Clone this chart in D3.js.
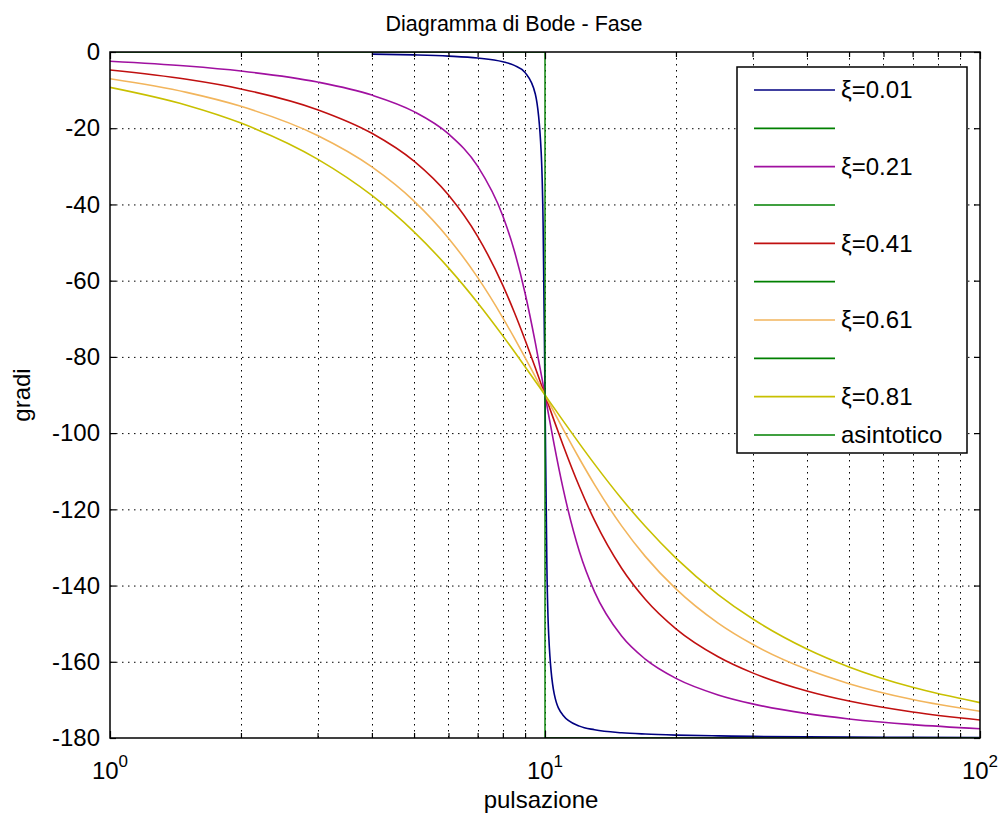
<!DOCTYPE html>
<html>
<head>
<meta charset="utf-8">
<script src="https://cdn.jsdelivr.net/npm/d3@7"></script>
<style>
  html, body { margin: 0; padding: 0; background: #fff; }
  svg { display: block; font-family: "Liberation Sans", Arial, sans-serif; }
</style>
</head>
<body>
<svg id="chart" width="1000" height="819"></svg>
<script>
// ---- data ----
const freq = [1, 1.5, 2, 3, 4, 5, 6, 7, 8, 8.5, 9, 9.5, 9.8, 9.9, 10, 10.1, 10.2, 10.5, 11, 12, 13, 15, 17, 20, 25, 30, 40, 50, 70, 100];
// the ξ=0.01 trace is only visible from about 4 rad/s onward
const phase001 = [null, null, null, null, -0.55, -0.76, -1.07, -1.57, -2.55, -3.51, -5.41, -11.03, -26.33, -44.86, -90, -134.86, -153.21, -168.42, -174.02, -176.88, -177.84, -178.63, -178.97, -179.24, -179.45, -179.57, -179.69, -179.76, -179.83, -179.88];
const phase021 = [-2.43, -3.69, -5.0, -7.88, -11.31, -15.64, -21.49, -29.96, -43.03, -52.14, -63.31, -76.27, -84.5, -87.26, -90, -92.71, -95.39, -103.08, -114.44, -131.12, -141.64, -153.25, -159.31, -164.36, -168.69, -171.05, -173.61, -175.0, -176.5, -177.57];
const phase041 = [-4.74, -7.17, -9.69, -15.13, -21.33, -28.66, -37.55, -48.38, -61.24, -68.29, -75.56, -82.87, -87.18, -88.6, -90, -91.39, -92.77, -96.79, -103.11, -114.09, -122.91, -135.46, -143.59, -151.34, -158.67, -162.91, -167.67, -170.31, -173.18, -175.27];
const phase061 = [-7.03, -10.6, -14.26, -21.91, -30.15, -39.12, -48.84, -59.15, -69.75, -75.02, -80.18, -85.19, -88.1, -89.06, -90, -90.93, -91.86, -94.57, -98.89, -106.73, -113.51, -124.34, -132.34, -140.88, -149.85, -155.41, -161.98, -165.74, -169.91, -172.97];
const phase081 = [-9.29, -13.96, -18.65, -28.1, -37.65, -47.2, -56.64, -65.78, -74.48, -78.61, -82.57, -86.37, -88.57, -89.29, -90, -90.7, -91.4, -93.45, -96.72, -102.75, -108.14, -117.22, -124.46, -132.8, -142.35, -148.72, -156.64, -161.35, -166.71, -170.71];
const asymFreq = [1, 10, 10, 100];
const asymPhase = [0, 0, -180, -180];

const seriesNames = ["\u03BE=0.01", "\u03BE=0.21", "\u03BE=0.41", "\u03BE=0.61", "\u03BE=0.81"];
const seriesColors = ["#000080", "#a010a0", "#c01010", "#f2b55c", "#c8c000"];
const asymColor = "#008000";
const legendLabels = ["\u03BE=0.01", "", "\u03BE=0.21", "", "\u03BE=0.41", "", "\u03BE=0.61", "", "\u03BE=0.81", "asintotico"];

const yTicks = [0, -20, -40, -60, -80, -100, -120, -140, -160, -180];
const xMajor = [1, 10, 100];
const xMajorExp = ["0", "1", "2"];
const xMinor = [2, 3, 4, 5, 6, 7, 8, 9, 20, 30, 40, 50, 60, 70, 80, 90];

const titleText = "Diagramma di Bode - Fase";
const xLabelText = "pulsazione";
const yLabelText = "gradi";

// ---- layout ----
const svg = d3.select("#chart");
const X0 = 110, X1 = 980, Y0 = 52, Y1 = 738;
const x = d3.scaleLog().domain([1, 100]).range([X0, X1]);
const y = d3.scaleLinear().domain([-180, 0]).range([Y1, Y0]);
const FS = 24;

svg.append("rect").attr("x", X0).attr("y", Y0).attr("width", X1 - X0).attr("height", Y1 - Y0).attr("fill", "#fff");

svg.append("defs").append("clipPath").attr("id", "clip")
  .append("rect").attr("x", X0).attr("y", Y0).attr("width", X1 - X0).attr("height", Y1 - Y0);

// grid
const grid = svg.append("g").attr("stroke", "#000").attr("stroke-width", 1).attr("stroke-dasharray", "1.5,4.5");
grid.selectAll(".gy").data(yTicks.filter(v => v !== 0 && v !== -180)).join("line")
  .attr("x1", X0).attr("x2", X1).attr("y1", d => y(d) + 0.5).attr("y2", d => y(d) + 0.5);
grid.selectAll(".gx").data(xMinor.concat([10])).join("line")
  .attr("x1", d => Math.round(x(d)) + 0.5).attr("x2", d => Math.round(x(d)) + 0.5).attr("y1", Y0).attr("y2", Y1);

// lines
const plot = svg.append("g").attr("clip-path", "url(#clip)");
const line = d3.line().defined(d => d[1] !== null)
  .x(d => x(d[0])).y(d => y(d[1])).curve(d3.curveMonotoneX);
const phases = [phase001, phase021, phase041, phase061, phase081];
const asymLine = d3.line().x(d => x(d[0])).y(d => y(d[1]));

phases.forEach((ph, i) => {
  plot.append("path").datum(freq.map((f, j) => [f, ph[j]]))
    .attr("d", line).attr("fill", "none").attr("stroke", seriesColors[i]).attr("stroke-width", 1.6);
});
plot.append("path").datum(asymFreq.map((f, j) => [f, asymPhase[j]]))
  .attr("d", asymLine).attr("fill", "none").attr("stroke", asymColor).attr("stroke-width", 1.4);

// axes
const axL = svg.append("g").attr("transform", `translate(${X0},0)`)
  .call(d3.axisLeft(y).tickValues(yTicks).tickSize(-6).tickPadding(10).tickFormat(d => String(d)));
const axR = svg.append("g").attr("transform", `translate(${X1},0)`)
  .call(d3.axisRight(y).tickValues(yTicks).tickSize(-6).tickFormat(""));
const axB = svg.append("g").attr("transform", `translate(0,${Y1})`)
  .call(d3.axisBottom(x).tickValues(xMajor).tickSize(-7).tickFormat(""));
const axBm = svg.append("g").attr("transform", `translate(0,${Y1})`)
  .call(d3.axisBottom(x).tickValues(xMinor).tickSize(-5).tickFormat(""));
const axT = svg.append("g").attr("transform", `translate(0,${Y0})`)
  .call(d3.axisTop(x).tickValues(xMajor).tickSize(-7).tickFormat(""));
const axTm = svg.append("g").attr("transform", `translate(0,${Y0})`)
  .call(d3.axisTop(x).tickValues(xMinor).tickSize(-5).tickFormat(""));
[axL, axR, axB, axBm, axT, axTm].forEach(a => {
  a.select(".domain").remove();
  a.selectAll("line").attr("stroke", "#000").attr("stroke-width", 1.2);
});
axL.selectAll("text").attr("font-size", FS).attr("fill", "#000")
  .attr("font-family", "'Liberation Sans', Arial, sans-serif");

// frame
svg.append("rect").attr("x", X0).attr("y", Y0).attr("width", X1 - X0).attr("height", Y1 - Y0)
  .attr("fill", "none").attr("stroke", "#000").attr("stroke-width", 1.5);

// x tick labels with superscripts
xMajor.forEach((v, i) => {
  const t = svg.append("text").attr("x", x(v)).attr("y", 779).attr("text-anchor", "middle")
    .attr("font-size", FS).attr("fill", "#000");
  t.append("tspan").text("10");
  t.append("tspan").attr("dy", -12).attr("font-size", 17).text(xMajorExp[i]);
});

// title and axis labels
svg.append("text").attr("x", 514).attr("y", 31).attr("text-anchor", "middle")
  .attr("font-size", 21.5).attr("fill", "#000").text(titleText);
svg.append("text").attr("x", 541).attr("y", 808).attr("text-anchor", "middle")
  .attr("font-size", FS).attr("fill", "#000").text(xLabelText);
svg.append("text").attr("transform", `translate(30,${(Y0 + Y1) / 2}) rotate(-90)`).attr("text-anchor", "middle")
  .attr("font-size", FS).attr("fill", "#000").text(yLabelText);

// legend
const LX0 = 737, LY0 = 67, LX1 = 967, LY1 = 453;
const lg = svg.append("g");
lg.append("rect").attr("x", LX0).attr("y", LY0).attr("width", LX1 - LX0).attr("height", LY1 - LY0)
  .attr("fill", "#fff").attr("stroke", "#000").attr("stroke-width", 1.5);
const legendColors = legendLabels.map((l, i) => (i % 2 === 0 && i < 9) ? seriesColors[i / 2] : asymColor);
const rowY = d3.scaleLinear().domain([0, legendLabels.length - 1]).range([90, 435]);
legendLabels.forEach((lab, i) => {
  const yy = rowY(i);
  lg.append("line").attr("x1", 754).attr("x2", 835).attr("y1", yy).attr("y2", yy)
    .attr("stroke", legendColors[i]).attr("stroke-width", 1.6);
  if (lab) {
    lg.append("text").attr("x", 841).attr("y", yy).attr("dy", "0.35em")
      .attr("font-size", FS).attr("fill", "#000").text(lab);
  }
});
</script>
</body>
</html>
